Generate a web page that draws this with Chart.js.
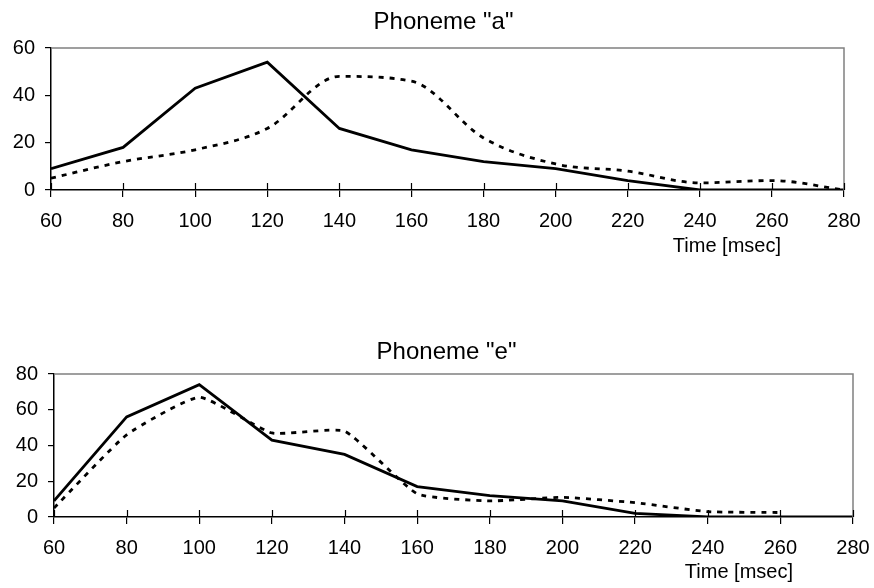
<!DOCTYPE html>
<html><head><meta charset="utf-8">
<script src="https://cdn.jsdelivr.net/npm/chart.js@4/dist/chart.umd.min.js"></script>
<style>
body{margin:0;background:#fff;width:874px;height:588px;position:relative;overflow:hidden}
canvas{position:absolute;left:0}
#c1{top:0}
#c2{top:290px}
</style>
</head><body>
<canvas id="c1" width="874" height="262" style="width:874px;height:262px"></canvas>
<canvas id="c2" width="874" height="298" style="width:874px;height:298px"></canvas>
<script>
// ---- data ----
const times = [60, 80, 100, 120, 140, 160, 180, 200, 220, 240, 260, 280];
const xTicks = [60, 80, 100, 120, 140, 160, 180, 200, 220, 240, 260, 280];
const phonemeA_solid  = [9, 18, 43, 54, 26, 17, 12, 9, 4, 0, 0, 0];
const phonemeA_dotted = [5, 12, 17, 26, 48, 46, 22, 11, 8, 3, 4, 0];
const phonemeE_solid  = [9, 56, 74, 43, 35, 17, 12, 9, 2, 0, 0, 0];
const phonemeE_dotted = [5, 46, 67, 47, 48, 13, 9, 11, 8, 3, 2.5, null];
const yTicksA = [0, 20, 40, 60];
const yTicksE = [0, 20, 40, 60, 80];
const titleA = 'Phoneme "a"';
const titleE = 'Phoneme "e"';
const xAxisLabel = 'Time [msec]';

const FONT = "'Liberation Sans', Arial, sans-serif";

const decor = {
  id: 'decor',
  afterDraw(chart, args, o) {
    const {ctx, chartArea: a, scales} = chart;
    ctx.save();
    ctx.strokeStyle = '#808080';
    ctx.lineWidth = 1.5;
    ctx.beginPath();
    ctx.moveTo(a.left, a.top);
    ctx.lineTo(a.right, a.top);
    ctx.lineTo(a.right, a.bottom);
    ctx.stroke();
    ctx.strokeStyle = '#000';
    ctx.lineWidth = 1.2;
    ctx.beginPath();
    for (const v of xTicks) {
      const x = Math.round(scales.x.getPixelForValue(v)) + 0.5;
      ctx.moveTo(x, a.bottom - 7);
      ctx.lineTo(x, a.bottom);
    }
    ctx.stroke();
    ctx.fillStyle = '#000';
    ctx.font = '24px ' + FONT;
    ctx.textAlign = 'center';
    ctx.textBaseline = 'alphabetic';
    ctx.fillText(o.title, (a.left + a.right) / 2 + o.tdx, a.top - o.tdy);
    ctx.font = '20px ' + FONT;
    ctx.textAlign = 'right';
    ctx.fillText(xAxisLabel, a.right - o.ldx, a.bottom + o.ldy);
    ctx.restore();
  }
};

function makeChart(id, solid, dotted, yTicks, dottedMode, dottedTension, L) {
  const yMax = yTicks[yTicks.length - 1];
  return new Chart(document.getElementById(id), {
    type: 'line',
    data: {
      datasets: [
        { data: times.map((t, i) => ({x: t, y: solid[i]})), borderColor: '#000', borderWidth: 2.8,
          pointRadius: 0, tension: 0, fill: false },
        { data: times.map((t, i) => ({x: t, y: dotted[i]})), borderColor: '#000', borderWidth: 2.8,
          borderDash: [5, 6], pointRadius: 0, tension: dottedTension, cubicInterpolationMode: dottedMode,
          fill: false, spanGaps: false }
      ]
    },
    options: {
      responsive: false, animation: false, devicePixelRatio: 1,
      layout: { padding: L.padding },
      plugins: { legend: { display: false }, tooltip: { enabled: false }, title: { display: false },
        decor: { title: L.title, tdx: L.tdx, tdy: L.tdy, ldx: L.ldx, ldy: L.ldy } },
      scales: {
        x: {
          type: 'linear', min: times[0], max: times[times.length - 1],
          afterBuildTicks: s => { s.ticks = xTicks.map(v => ({value: v})); },
          afterFit: s => { s.height = L.xh; s.paddingLeft = 0; s.paddingRight = 0; },
          grid: { display: true, drawOnChartArea: false, drawTicks: true, tickLength: 7, color: '#000', lineWidth: 1.2 },
          border: { display: true, color: '#000', width: 1.5 },
          ticks: { color: '#000', font: { size: 20, family: FONT }, padding: 12, maxRotation: 0, autoSkip: false }
        },
        y: {
          min: 0, max: yMax,
          afterBuildTicks: s => { s.ticks = yTicks.map(v => ({value: v})); },
          afterFit: s => { s.width = L.yw; s.paddingTop = 0; s.paddingBottom = 0; },
          grid: { display: true, drawOnChartArea: false, drawTicks: true, tickLength: 6, color: '#000', lineWidth: 1.2 },
          border: { display: true, color: '#000', width: 1.5 },
          ticks: { color: '#000', font: { size: 20, family: FONT }, padding: 10 }
        }
      }
    },
    plugins: [decor]
  });
}

makeChart('c1', phonemeA_solid, phonemeA_dotted, yTicksA, 'monotone', 0.4,
  { padding: {left: 0, right: 30, top: 48, bottom: 0}, yw: 51, xh: 72, title: titleA, tdx: -4, tdy: 19, ldx: 63, ldy: 62 });
makeChart('c2', phonemeE_solid, phonemeE_dotted, yTicksE, 'default', 0.15,
  { padding: {left: 0, right: 21, top: 84, bottom: 0}, yw: 54, xh: 71, title: titleE, tdx: -7, tdy: 15, ldx: 60, ldy: 61 });
</script>
</body></html>
